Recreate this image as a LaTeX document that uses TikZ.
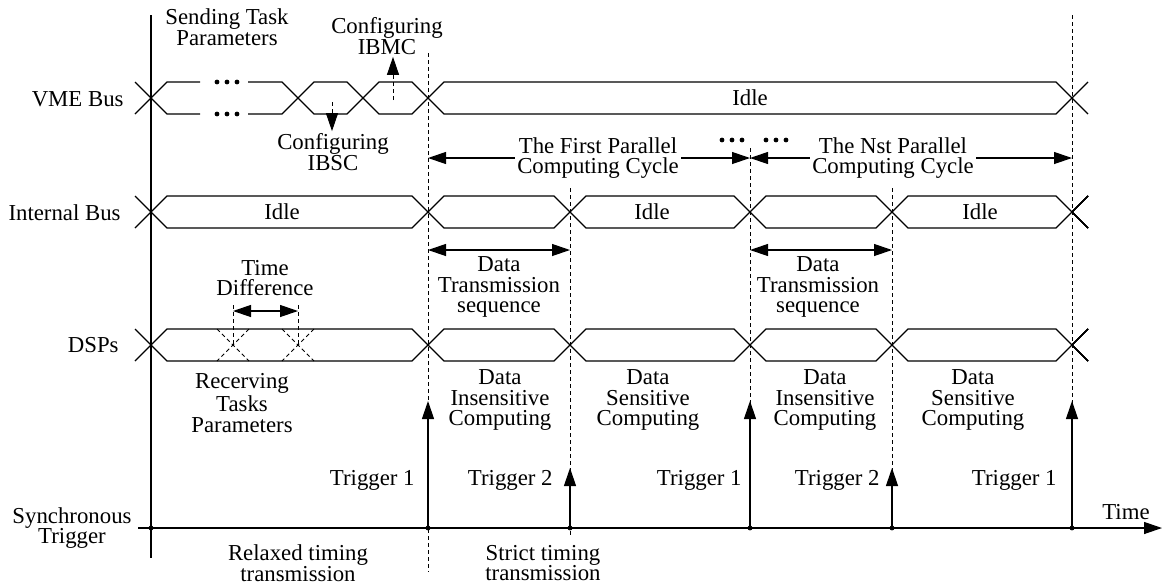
\documentclass[tikz,border=0pt]{standalone}
\usepackage{fontspec}
\setmainfont{Liberation Serif}
\usetikzlibrary{arrows.meta,calc,positioning}
\tikzstyle{lbl} = [align=center, inner sep=1pt, font=\fontsize{11.4}{10.3}\selectfont]
\tikzstyle{sig} = [line width=0.55pt]
\tikzstyle{guide} = [line width=0.5pt, dash pattern=on 2pt off 1.5pt]
\tikzstyle{connector} = [-{Triangle[length=9pt,width=6pt]}, line width=0.6pt]
\tikzstyle{span} = [{Triangle[length=9pt,width=6pt]}-{Triangle[length=9pt,width=6pt]}, line width=0.6pt]
\tikzstyle{junction} = [draw, circle, fill, inner sep=0pt, minimum size=2pt]

% one bus interval between two crossings
\newcommand{\sigseg}[3]{%
  \draw[sig] (#1,#3) -- ++(16,-16) -- ($(#2,#3)+(-16,-16)$) -- (#2,#3)
    -- ($(#2,#3)+(-16,16)$) -- ($(#1,#3)+(16,16)$) -- cycle;}
\newcommand{\dotrow}[2]{%
  \foreach \dx in {-10,0,10} \fill (#1+\dx,#2) circle (1.2pt);}

\begin{document}
\begin{tikzpicture}[x=0.5pt, y=-0.5pt]
		\useasboundingbox (0,0) rectangle (1162,585);

		% row names
		\node[lbl, anchor=east] (vme) at (126,99) {VME Bus};
		\node[lbl, anchor=east] (ibus) at (123,213) {Internal Bus};
		\node[lbl, anchor=east] (dsp) at (121,345) {DSPs};
		\node[lbl] (sync) at (72,528) {Synchronous\\Trigger};

		% time axis and trigger points
		\coordinate (axis start) at (138,528);
		\coordinate (axis end) at (1162,528);
		\draw[connector] (axis start) -- (axis end);
		\node[lbl] (time) at (1126,512) {Time};
		\foreach \n/\t in {0/151, 1/428, 2/570, 3/750, 4/892, 5/1072}
			\node[junction] (s\n) at (\t,528) {};
		\coordinate (hi) at (0,401);
		\coordinate (lo) at (0,468);

		% vertical guides
		\draw[sig] (151,15) -- (151,558);
		\draw[guide] (428,53) -- (428,572);
		\draw[guide] (570,188) -- (570,535);
		\draw[guide] (750,148) -- (s3);
		\draw[guide] (892,188) -- (s4);
		\draw[guide] (1072,15) -- (s5);

		% VME bus
		\draw[sig] (135,82) -- (151,98) -- (135,114);
		\draw[sig] (200,82) -- (167,82) -- (151,98) -- (167,114) -- (200,114);
		\draw[sig] (248,82) -- (282,82) -- (298,98) -- (282,114) -- (248,114);
		\dotrow{227}{82}
		\dotrow{227}{114}
		\sigseg{298}{363}{98}
		\sigseg{363}{428}{98}
		\sigseg{428}{1072}{98}
		\draw[sig] (1088,82) -- (1072,98) -- (1088,114);
		\node[lbl] (vme idle) at (750,98) {Idle};
		\node[lbl] (send) at (227,27) {Sending Task\\Parameters};
		\node[lbl] (ibmc) at (387,36) {Configuring\\IBMC};
		\node[lbl] (ibsc) at (333,152) {Configuring\\IBSC};
		\draw[connector, guide] (393,100) -- (ibmc.south -| 393,0);
		\draw[connector, guide] (332,102) -- (ibsc.north -| 332,0);

		% parallel computing cycles
		\draw[span] (428,158) -- (750,158);
		\draw[span] (750,158) -- (1072,158);
		\node[lbl, fill=white] (cycle1) at (598,158) {The First Parallel\\Computing Cycle};
		\node[lbl, fill=white] (cycleN) at (893,158) {The Nst Parallel\\Computing Cycle};
		\dotrow{732}{140}
		\dotrow{776}{140}

		% internal bus
		\draw[sig] (135,196) -- (151,212) -- (135,228);
		\foreach \a/\b in {151/428, 428/570, 570/750, 750/892, 892/1072}
			\sigseg{\a}{\b}{212}
		\draw[sig] (1088,196) -- (1072,212) -- (1088,228);
		\node[lbl] (idle1) at (282,212) {Idle};
		\node[lbl] (idle2) at (652,212) {Idle};
		\node[lbl] (idle3) at (980,212) {Idle};

		% transmission windows
		\draw[span] (428,250) -- (570,250);
		\draw[span] (750,250) -- (892,250);
		\node[lbl] (tx1) at (499,287) {Data\\Transmission\\sequence};
		\node[lbl] (tx2) at (818,287) {Data\\Transmission\\sequence};
		\node[lbl] (tdiff) at (265,278) {Time\\Difference};
		\draw[guide] (233,305) -- (233,345);
		\draw[guide] (298,305) -- (298,345);
		\draw[span] (233,311) -- (298,311);

		% DSPs
		\draw[sig] (135,329) -- (151,345) -- (135,361);
		\foreach \a/\b in {151/428, 428/570, 570/750, 750/892, 892/1072}
			\sigseg{\a}{\b}{345}
		\draw[sig] (1088,329) -- (1072,345) -- (1088,361);
		\foreach \t in {233,298}
			\draw[guide] (\t-16,329) -- (\t+16,361) (\t+16,329) -- (\t-16,361);
		\node[lbl] (recv) at (242,403) {Recerving\\Tasks\\Parameters};
		\node[lbl] (ins1) at (500,400) {Data\\Insensitive\\Computing};
		\node[lbl] (sen1) at (648,400) {Data\\Sensitive\\Computing};
		\node[lbl] (ins2) at (825,400) {Data\\Insensitive\\Computing};
		\node[lbl] (sen2) at (973,400) {Data\\Sensitive\\Computing};

		% triggers
		\draw[connector] (s1) -- (s1 |- hi);
		\draw[connector] (s2) -- (s2 |- lo);
		\draw[connector] (s3) -- (s3 |- hi);
		\draw[connector] (s4) -- (s4 |- lo);
		\draw[connector] (s5) -- (s5 |- hi);
		\node[lbl, anchor=east] (trg1) at (417,480) {Trigger 1};
		\node[lbl, anchor=east] (trg2) at (555,480) {Trigger 2};
		\node[lbl, anchor=east] (trg3) at (744,480) {Trigger 1};
		\node[lbl, anchor=east] (trg4) at (882,480) {Trigger 2};
		\node[lbl, anchor=east] (trg5) at (1059,480) {Trigger 1};

		\node[lbl] (relaxed) at (298,563) {Relaxed timing\\transmission};
		\node[lbl] (strict) at (543,563) {Strict timing\\transmission};
	\end{tikzpicture}
\end{document}
